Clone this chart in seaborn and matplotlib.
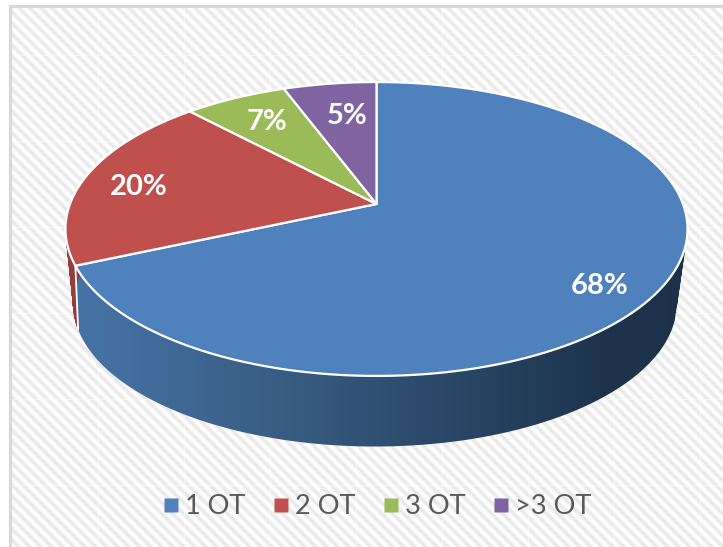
import numpy as np
import matplotlib
matplotlib.use('Agg')
import matplotlib.pyplot as plt
from matplotlib.colors import to_rgb
from matplotlib.lines import Line2D
from matplotlib.patches import Polygon, PathPatch
from matplotlib.path import Path
import seaborn as sns

categories = ['1 OT', '2 OT', '3 OT', '>3 OT']
shares = [68.4, 19.6, 6.3, 5.7]
pie_labels = ['68%', '20%', '7%', '5%']
slice_colors = ['#4f81bd', '#c0504d', '#9bbb59', '#8064a2']

W, H = 723, 547
APEX = (376.5, 204)
A, B, K = 306.5, 142.7, 0.17
MID_Y = 229
FLOOR = (375, 304)
FLOOR_SCALE = 0.97
FLOOR_TWIST = np.radians(4)
label_xy = [(600, 286), (139, 187), (267, 122), (347, 116)]


def rim(theta, r=1.0):
    # clockwise from 12 o'clock, flattened with a bit of perspective
    u, v = r * np.sin(theta), r * np.cos(theta)
    w = 1 + K * v
    return APEX[0] + A * u / w, APEX[1] - B * v / w


def floor(theta):
    x, y = rim(theta + FLOOR_TWIST)
    return FLOOR[0] + FLOOR_SCALE * (x - APEX[0]), FLOOR[1] + FLOOR_SCALE * (y - MID_Y)


def wall_path(t_from, t_to, n):
    # union of small quads, this also covers the straight silhouette at the sides
    thetas = np.linspace(t_from, t_to, n)
    quads = []
    for t0, t1 in zip(thetas[:-1], thetas[1:]):
        pts = np.array([rim(t0), rim(t1), floor(t1), floor(t0)])
        x, y = pts[:, 0], pts[:, 1]
        area = np.sum(x * np.roll(y, -1) - np.roll(x, -1) * y)
        if area < 0:
            pts = pts[::-1]
        quads.append(Path(np.vstack([pts, pts[:1]]), closed=True))
    return Path.make_compound_path(*quads)


def background(ax):
    yy, xx = np.mgrid[0:H, 0:W]
    stripes = 0.5 + 0.5 * np.cos(2 * np.pi * (xx - yy) / 11.0)
    img = 1 - 0.09 * stripes
    img[:, 98::86] = 0.6 * img[:, 98::86] + 0.4
    img[55::86, :] = 0.6 * img[55::86, :] + 0.4
    img[:, :9] = 1
    img[:6, :] = 1
    ax.imshow(img, cmap='gray', vmin=0, vmax=1, extent=(0, W, H, 0), interpolation='bilinear', zorder=0)
    ax.plot([9.5, 9.5], [H, 6], color='#d9d9d9', lw=2.2, zorder=1, solid_capstyle='projecting')
    ax.plot([9.5, W], [6, 6], color='#d9d9d9', lw=2.2, zorder=1, solid_capstyle='projecting')


def side_gradient(ax, path):
    # blue wall goes dark from left to right, vertical bands
    stops = [80, 250, 420, 600, 690]
    cols = np.array([to_rgb(c) for c in ['#4673a6', '#3b6088', '#2c4b6c', '#1e344d', '#1c3149']])
    xs = np.arange(W) + 0.5
    band = np.stack([np.interp(xs, stops, cols[:, i]) for i in range(3)], axis=1)[None, :, :]
    im = ax.imshow(band, extent=(0, W, H, 0), aspect='auto', zorder=2)
    clip = PathPatch(path, transform=ax.transData, facecolor='none', edgecolor='none')
    ax.add_patch(clip)
    im.set_clip_path(clip)


def main():
    sns.set_theme(style='white')
    plt.rcParams['font.family'] = ['Lato', 'DejaVu Sans']
    palette = sns.color_palette(slice_colors)

    fig, ax = plt.subplots(figsize=(W / 100, H / 100), dpi=100)
    ax.set_position([0, 0, 1, 1])
    background(ax)

    edges = np.radians(np.cumsum([0] + shares) * 3.6)

    # walls first, only the front part shows
    red_end = np.pi * 1.6
    side_gradient(ax, wall_path(np.pi * 0.3, edges[1], 260))
    ax.add_patch(PathPatch(wall_path(edges[1], red_end, 40), facecolor='#963c39', edgecolor='#963c39', lw=0.5, zorder=2))

    p, q = rim(edges[1]), floor(edges[1])
    ax.plot([p[0], q[0]], [p[1], q[1]], color='white', lw=1.3, zorder=3)

    # top face
    for i, col in enumerate(palette):
        t = np.linspace(edges[i], edges[i + 1], 200)
        pts = [APEX] + [rim(a) for a in t]
        ax.add_patch(Polygon(pts, facecolor=col, edgecolor='white', lw=1.6, joinstyle='round', zorder=4))

    for txt, (x, y) in zip(pie_labels, label_xy):
        ax.text(x, y, txt, color='white', fontsize=21, fontweight='bold', ha='center', va='center', zorder=5)

    handles = [Line2D([0], [0], marker='s', linestyle='none', markersize=9.5, markerfacecolor=c,
                      markeredgecolor='none', label=n) for c, n in zip(palette, categories)]
    ax.legend(handles=handles, ncol=4, loc='center', bbox_to_anchor=(373 / W, 1 - 507 / H), frameon=False,
              fontsize=19.5, labelcolor='#595959', handletextpad=-0.07, columnspacing=0.7, handlelength=1.2,
              borderpad=0)

    ax.set_xlim(0, W)
    ax.set_ylim(H, 0)
    ax.axis('off')
    fig.savefig('out.png', dpi=100)


if __name__ == '__main__':
    main()
